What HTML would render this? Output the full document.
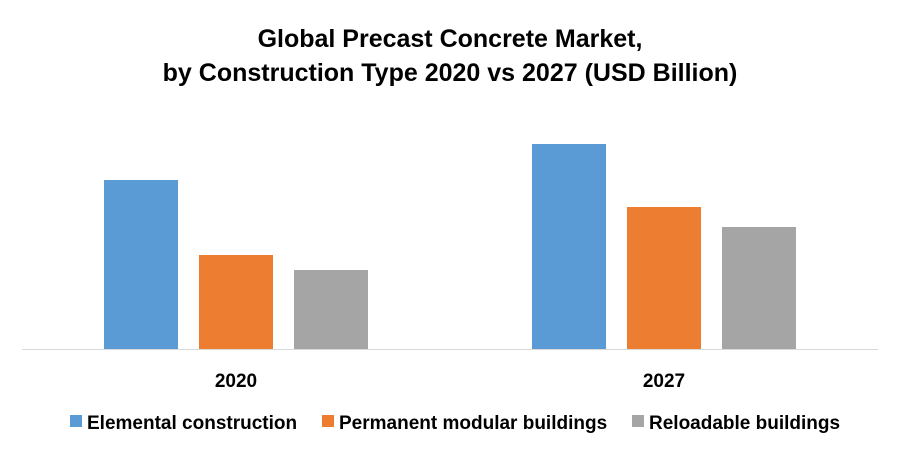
<!DOCTYPE html>
<html><head><meta charset="utf-8"><style>
body{margin:0;background:#fff;}
svg text{font-family:"Liberation Sans",sans-serif;font-weight:bold;fill:#000;}
</style></head><body>
<svg id="chart" width="900" height="455" xmlns="http://www.w3.org/2000/svg">
<text x="450" y="47" text-anchor="middle" font-size="25">Global Precast Concrete Market,</text>
<text x="450" y="81" text-anchor="middle" font-size="25">by Construction Type 2020 vs 2027 (USD Billion)</text>
<line x1="22" y1="349.5" x2="878" y2="349.5" stroke="#d9d9d9" stroke-width="1"/>
<g id="bars"></g>
<g id="labels"></g>
<g id="legend"></g>
</svg>
<script>
const categories = ["2020", "2027"];
const seriesNames = ["Elemental construction", "Permanent modular buildings", "Reloadable buildings"];
const elemental = [16.9, 20.5];
const permanent = [9.4, 14.2];
const reloadable = [7.9, 12.2];
const colors = ["#5b9bd5", "#ed7d31", "#a5a5a5"];
const ns = "http://www.w3.org/2000/svg";
const series = [elemental, permanent, reloadable];
const x0 = 22, x1 = 878, base = 349, pxPerUnit = 10;
const band = (x1 - x0) / categories.length;
function xCenter(i){ return x0 + band * (i + 0.5); }
function yScale(v){ return base - v * pxPerUnit; }
const barW = 74, step = 95;
const bars = document.getElementById('bars');
const labels = document.getElementById('labels');
categories.forEach((c, i) => {
  series.forEach((s, j) => {
    const r = document.createElementNS(ns, 'rect');
    const cx = xCenter(i) + (j - 1) * step;
    r.setAttribute('x', cx - barW / 2);
    r.setAttribute('y', yScale(s[i]));
    r.setAttribute('width', barW);
    r.setAttribute('height', base - yScale(s[i]));
    r.setAttribute('fill', colors[j]);
    
    
    bars.appendChild(r);
  });
  const t = document.createElementNS(ns, 'text');
  t.setAttribute('x', xCenter(i));
  t.setAttribute('y', 387);
  t.setAttribute('text-anchor', 'middle');
  t.setAttribute('font-size', '19');
  t.textContent = c;
  
  
  labels.appendChild(t);
});
const legend = document.getElementById('legend');
const lx = [70, 322, 632];
seriesNames.forEach((n, j) => {
  const g = document.createElementNS(ns, 'g');
  
  
  const r = document.createElementNS(ns, 'rect');
  r.setAttribute('x', lx[j]); r.setAttribute('y', 415);
  r.setAttribute('width', 12); r.setAttribute('height', 12);
  r.setAttribute('fill', colors[j]);
  const t = document.createElementNS(ns, 'text');
  t.setAttribute('x', lx[j] + 17); t.setAttribute('y', 429);
  t.setAttribute('font-size', '19');
  t.textContent = n;
  g.appendChild(r); g.appendChild(t);
  legend.appendChild(g);
});
</script>
</body></html>
